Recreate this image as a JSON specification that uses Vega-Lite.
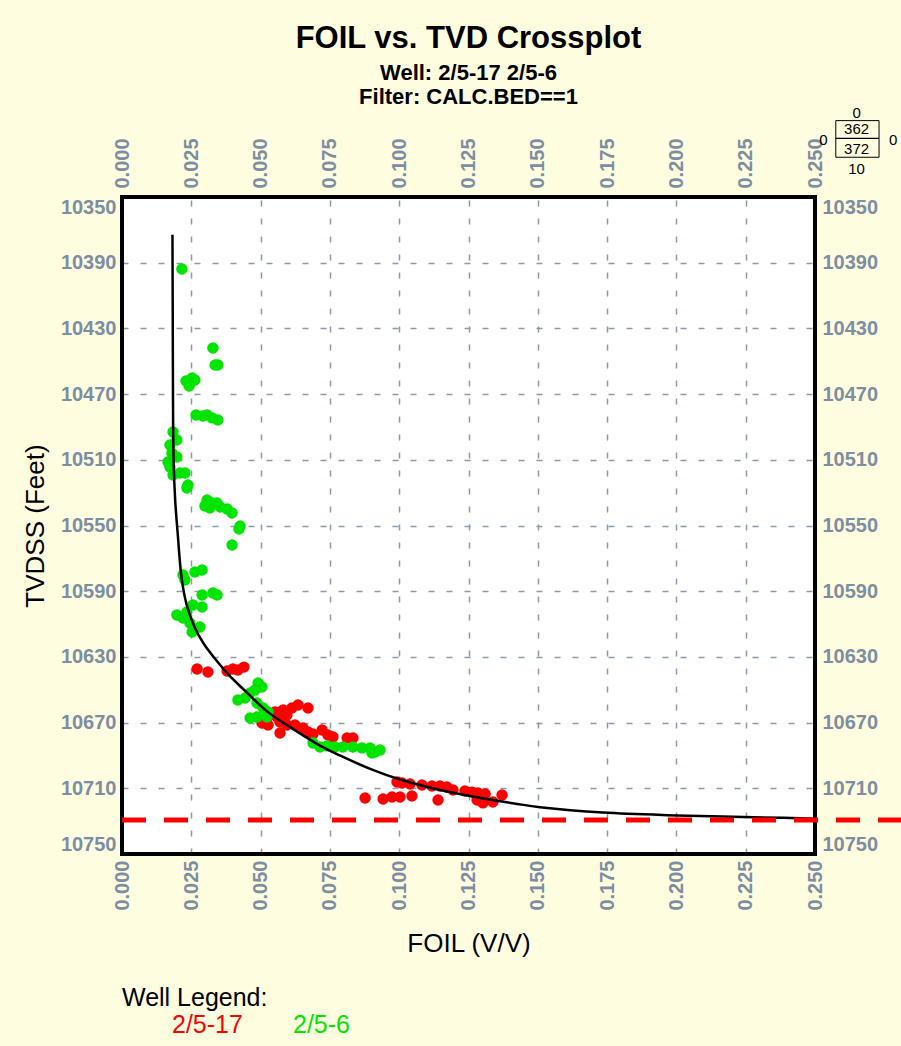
{
  "$schema": "https://vega.github.io/schema/vega-lite/v6.json",
  "autosize": {"type": "none"},
  "padding": {"left": 122, "top": 197, "right": 86, "bottom": 192},
  "width": 693,
  "height": 657,
  "title": {
    "text": "FOIL vs. TVD Crossplot",
    "subtitle": ["Well: 2/5-17 2/5-6", "Filter: CALC.BED==1"],
    "anchor": "middle",
    "frame": "group",
    "font": "Liberation Sans",
    "fontSize": 31,
    "fontWeight": "bold",
    "color": "black",
    "subtitleFont": "Liberation Sans",
    "subtitleFontSize": 22,
    "subtitleFontWeight": "bold",
    "subtitleColor": "black",
    "subtitleLineHeight": 24,
    "subtitlePadding": 8,
    "offset": -3
  },
  "datasets": {
    "pts": [
      {"well": "2/5-17", "foil": 0.0271, "tvd": 10637.4},
      {"well": "2/5-17", "foil": 0.0310, "tvd": 10639.2},
      {"well": "2/5-17", "foil": 0.0379, "tvd": 10638.6},
      {"well": "2/5-17", "foil": 0.0400, "tvd": 10637.4},
      {"well": "2/5-17", "foil": 0.0418, "tvd": 10638.0},
      {"well": "2/5-17", "foil": 0.0440, "tvd": 10636.2},
      {"well": "2/5-17", "foil": 0.0505, "tvd": 10670.2},
      {"well": "2/5-17", "foil": 0.0527, "tvd": 10671.5},
      {"well": "2/5-17", "foil": 0.0552, "tvd": 10663.5},
      {"well": "2/5-17", "foil": 0.0581, "tvd": 10662.3},
      {"well": "2/5-17", "foil": 0.0613, "tvd": 10661.1},
      {"well": "2/5-17", "foil": 0.0635, "tvd": 10659.3},
      {"well": "2/5-17", "foil": 0.0671, "tvd": 10661.1},
      {"well": "2/5-17", "foil": 0.0570, "tvd": 10669.6},
      {"well": "2/5-17", "foil": 0.0595, "tvd": 10671.5},
      {"well": "2/5-17", "foil": 0.0624, "tvd": 10671.5},
      {"well": "2/5-17", "foil": 0.0653, "tvd": 10673.3},
      {"well": "2/5-17", "foil": 0.0671, "tvd": 10675.7},
      {"well": "2/5-17", "foil": 0.0689, "tvd": 10676.9},
      {"well": "2/5-17", "foil": 0.0722, "tvd": 10674.5},
      {"well": "2/5-17", "foil": 0.0743, "tvd": 10677.5},
      {"well": "2/5-17", "foil": 0.0761, "tvd": 10678.8},
      {"well": "2/5-17", "foil": 0.0570, "tvd": 10676.3},
      {"well": "2/5-17", "foil": 0.0812, "tvd": 10679.4},
      {"well": "2/5-17", "foil": 0.0833, "tvd": 10679.4},
      {"well": "2/5-17", "foil": 0.0559, "tvd": 10666.6},
      {"well": "2/5-17", "foil": 0.0595, "tvd": 10665.4},
      {"well": "2/5-17", "foil": 0.0523, "tvd": 10667.2},
      {"well": "2/5-17", "foil": 0.0877, "tvd": 10715.9},
      {"well": "2/5-17", "foil": 0.0942, "tvd": 10716.5},
      {"well": "2/5-17", "foil": 0.0974, "tvd": 10715.3},
      {"well": "2/5-17", "foil": 0.1003, "tvd": 10715.3},
      {"well": "2/5-17", "foil": 0.1046, "tvd": 10714.7},
      {"well": "2/5-17", "foil": 0.1140, "tvd": 10717.1},
      {"well": "2/5-17", "foil": 0.0992, "tvd": 10706.2},
      {"well": "2/5-17", "foil": 0.1010, "tvd": 10706.8},
      {"well": "2/5-17", "foil": 0.1039, "tvd": 10707.4},
      {"well": "2/5-17", "foil": 0.1082, "tvd": 10708.0},
      {"well": "2/5-17", "foil": 0.1118, "tvd": 10708.6},
      {"well": "2/5-17", "foil": 0.1147, "tvd": 10708.6},
      {"well": "2/5-17", "foil": 0.1172, "tvd": 10709.2},
      {"well": "2/5-17", "foil": 0.1194, "tvd": 10711.0},
      {"well": "2/5-17", "foil": 0.1237, "tvd": 10711.6},
      {"well": "2/5-17", "foil": 0.1263, "tvd": 10712.3},
      {"well": "2/5-17", "foil": 0.1284, "tvd": 10712.9},
      {"well": "2/5-17", "foil": 0.1310, "tvd": 10713.5},
      {"well": "2/5-17", "foil": 0.1281, "tvd": 10717.1},
      {"well": "2/5-17", "foil": 0.1302, "tvd": 10718.9},
      {"well": "2/5-17", "foil": 0.1338, "tvd": 10718.3},
      {"well": "2/5-17", "foil": 0.1371, "tvd": 10714.1},
      {"well": "2/5-6", "foil": 0.0216, "tvd": 10393.8},
      {"well": "2/5-6", "foil": 0.0328, "tvd": 10441.9},
      {"well": "2/5-6", "foil": 0.0336, "tvd": 10452.3},
      {"well": "2/5-6", "foil": 0.0346, "tvd": 10452.3},
      {"well": "2/5-6", "foil": 0.0231, "tvd": 10462.0},
      {"well": "2/5-6", "foil": 0.0245, "tvd": 10463.2},
      {"well": "2/5-6", "foil": 0.0263, "tvd": 10461.4},
      {"well": "2/5-6", "foil": 0.0242, "tvd": 10465.1},
      {"well": "2/5-6", "foil": 0.0253, "tvd": 10460.2},
      {"well": "2/5-6", "foil": 0.0267, "tvd": 10482.7},
      {"well": "2/5-6", "foil": 0.0292, "tvd": 10483.3},
      {"well": "2/5-6", "foil": 0.0307, "tvd": 10482.7},
      {"well": "2/5-6", "foil": 0.0325, "tvd": 10484.5},
      {"well": "2/5-6", "foil": 0.0346, "tvd": 10485.8},
      {"well": "2/5-6", "foil": 0.0184, "tvd": 10493.1},
      {"well": "2/5-6", "foil": 0.0198, "tvd": 10497.9},
      {"well": "2/5-6", "foil": 0.0173, "tvd": 10501.0},
      {"well": "2/5-6", "foil": 0.0180, "tvd": 10505.9},
      {"well": "2/5-6", "foil": 0.0198, "tvd": 10508.3},
      {"well": "2/5-6", "foil": 0.0166, "tvd": 10511.3},
      {"well": "2/5-6", "foil": 0.0173, "tvd": 10514.4},
      {"well": "2/5-6", "foil": 0.0184, "tvd": 10519.3},
      {"well": "2/5-6", "foil": 0.0209, "tvd": 10518.0},
      {"well": "2/5-6", "foil": 0.0227, "tvd": 10518.0},
      {"well": "2/5-6", "foil": 0.0238, "tvd": 10525.3},
      {"well": "2/5-6", "foil": 0.0234, "tvd": 10527.2},
      {"well": "2/5-6", "foil": 0.0307, "tvd": 10534.5},
      {"well": "2/5-6", "foil": 0.0299, "tvd": 10538.1},
      {"well": "2/5-6", "foil": 0.0325, "tvd": 10536.3},
      {"well": "2/5-6", "foil": 0.0343, "tvd": 10536.3},
      {"well": "2/5-6", "foil": 0.0317, "tvd": 10539.3},
      {"well": "2/5-6", "foil": 0.0354, "tvd": 10538.7},
      {"well": "2/5-6", "foil": 0.0379, "tvd": 10540.0},
      {"well": "2/5-6", "foil": 0.0397, "tvd": 10542.4},
      {"well": "2/5-6", "foil": 0.0426, "tvd": 10550.3},
      {"well": "2/5-6", "foil": 0.0422, "tvd": 10552.1},
      {"well": "2/5-6", "foil": 0.0397, "tvd": 10561.9},
      {"well": "2/5-6", "foil": 0.0220, "tvd": 10580.1},
      {"well": "2/5-6", "foil": 0.0227, "tvd": 10583.2},
      {"well": "2/5-6", "foil": 0.0263, "tvd": 10578.3},
      {"well": "2/5-6", "foil": 0.0289, "tvd": 10577.1},
      {"well": "2/5-6", "foil": 0.0289, "tvd": 10592.3},
      {"well": "2/5-6", "foil": 0.0328, "tvd": 10591.1},
      {"well": "2/5-6", "foil": 0.0343, "tvd": 10592.3},
      {"well": "2/5-6", "foil": 0.0256, "tvd": 10598.4},
      {"well": "2/5-6", "foil": 0.0289, "tvd": 10599.6},
      {"well": "2/5-6", "foil": 0.0234, "tvd": 10602.7},
      {"well": "2/5-6", "foil": 0.0198, "tvd": 10604.5},
      {"well": "2/5-6", "foil": 0.0220, "tvd": 10606.3},
      {"well": "2/5-6", "foil": 0.0245, "tvd": 10609.4},
      {"well": "2/5-6", "foil": 0.0281, "tvd": 10611.8},
      {"well": "2/5-6", "foil": 0.0253, "tvd": 10614.8},
      {"well": "2/5-6", "foil": 0.0491, "tvd": 10645.9},
      {"well": "2/5-6", "foil": 0.0505, "tvd": 10648.3},
      {"well": "2/5-6", "foil": 0.0480, "tvd": 10650.2},
      {"well": "2/5-6", "foil": 0.0418, "tvd": 10656.2},
      {"well": "2/5-6", "foil": 0.0444, "tvd": 10655.0},
      {"well": "2/5-6", "foil": 0.0462, "tvd": 10652.0},
      {"well": "2/5-6", "foil": 0.0487, "tvd": 10658.1},
      {"well": "2/5-6", "foil": 0.0509, "tvd": 10661.1},
      {"well": "2/5-6", "foil": 0.0527, "tvd": 10663.5},
      {"well": "2/5-6", "foil": 0.0462, "tvd": 10667.2},
      {"well": "2/5-6", "foil": 0.0487, "tvd": 10666.6},
      {"well": "2/5-6", "foil": 0.0523, "tvd": 10666.6},
      {"well": "2/5-6", "foil": 0.0689, "tvd": 10682.4},
      {"well": "2/5-6", "foil": 0.0714, "tvd": 10684.9},
      {"well": "2/5-6", "foil": 0.0740, "tvd": 10684.2},
      {"well": "2/5-6", "foil": 0.0768, "tvd": 10684.9},
      {"well": "2/5-6", "foil": 0.0797, "tvd": 10684.9},
      {"well": "2/5-6", "foil": 0.0833, "tvd": 10684.9},
      {"well": "2/5-6", "foil": 0.0866, "tvd": 10685.5},
      {"well": "2/5-6", "foil": 0.0895, "tvd": 10685.5},
      {"well": "2/5-6", "foil": 0.0913, "tvd": 10687.9},
      {"well": "2/5-6", "foil": 0.0931, "tvd": 10686.7},
      {"well": "2/5-6", "foil": 0.0902, "tvd": 10688.5}
    ],
    "curve": [
      {"foil": 0.0182, "tvd": 10373},
      {"foil": 0.0183, "tvd": 10420},
      {"foil": 0.0184, "tvd": 10474},
      {"foil": 0.0186, "tvd": 10510},
      {"foil": 0.0192, "tvd": 10535},
      {"foil": 0.0201, "tvd": 10555},
      {"foil": 0.0215, "tvd": 10582},
      {"foil": 0.0233, "tvd": 10598},
      {"foil": 0.0262, "tvd": 10612},
      {"foil": 0.0295, "tvd": 10622},
      {"foil": 0.0335, "tvd": 10631},
      {"foil": 0.0385, "tvd": 10641},
      {"foil": 0.0440, "tvd": 10650},
      {"foil": 0.0522, "tvd": 10663},
      {"foil": 0.0618, "tvd": 10674},
      {"foil": 0.0714, "tvd": 10684},
      {"foil": 0.0786, "tvd": 10690},
      {"foil": 0.0900, "tvd": 10698.5},
      {"foil": 0.1000, "tvd": 10704.5},
      {"foil": 0.1147, "tvd": 10711},
      {"foil": 0.1300, "tvd": 10716},
      {"foil": 0.1425, "tvd": 10719.5},
      {"foil": 0.1508, "tvd": 10721.5},
      {"foil": 0.1735, "tvd": 10724.8},
      {"foil": 0.2002, "tvd": 10726.5},
      {"foil": 0.2385, "tvd": 10728},
      {"foil": 0.2500, "tvd": 10728.6}
    ],
    "boxes": [
      {"foil": 0.2575, "foil2": 0.2731, "tvd": 10303.5, "tvd2": 10314.3},
      {"foil": 0.2575, "foil2": 0.2731, "tvd": 10314.3, "tvd2": 10325.8}
    ],
    "counts": [
      {"foil": 0.2650, "tvd": 10299.0, "label": "0"},
      {"foil": 0.2650, "tvd": 10308.8, "label": "362"},
      {"foil": 0.2650, "tvd": 10320.8, "label": "372"},
      {"foil": 0.2650, "tvd": 10333.1, "label": "10"},
      {"foil": 0.2530, "tvd": 10315.3, "label": "0"},
      {"foil": 0.2782, "tvd": 10315.3, "label": "0"}
    ]
  },
  "layer": [
    {
      "data": {"name": "pts"},
      "mark": {"type": "point", "filled": true, "opacity": 1, "size": 130, "shape": "circle", "strokeWidth": 0},
      "encoding": {
        "x": {
          "field": "foil", "type": "quantitative",
          "scale": {"domain": [0, 0.25], "nice": false, "zero": false},
          "axis": {
            "orient": "bottom", "title": "FOIL (V/V)", "format": ".3f",
            "values": [0, 0.025, 0.05, 0.075, 0.1, 0.125, 0.15, 0.175, 0.2, 0.225, 0.25],
            "labelAngle": 270, "labelAlign": "right", "labelBaseline": "middle",
            "labelFlush": true, "labelPadding": 6, "grid": true, "titlePadding": 20
          }
        },
        "y": {
          "field": "tvd", "type": "quantitative",
          "scale": {"domain": [10350, 10750], "reverse": true, "nice": false, "zero": false},
          "axis": {
            "orient": "left", "title": "TVDSS (Feet)", "format": "d",
            "values": [10350, 10390, 10430, 10470, 10510, 10550, 10590, 10630, 10670, 10710, 10750],
            "labelFlush": true, "labelPadding": 6, "grid": true, "titlePadding": 12
          }
        },
        "color": {
          "field": "well", "type": "nominal",
          "scale": {"domain": ["2/5-17", "2/5-6"], "range": ["#FF0000", "#00E400"]},
          "legend": {
            "orient": "none", "legendX": 0, "legendY": 789,
            "direction": "horizontal", "title": "Well Legend:",
            "titleFont": "Liberation Sans", "titleFontSize": 25, "titleFontWeight": "normal",
            "titleColor": "black", "titleAnchor": "start", "titlePadding": 1,
            "labelFont": "Liberation Sans", "labelFontSize": 25,
            "symbolSize": 0, "symbolOpacity": 0, "symbolStrokeWidth": 0,
            "labelOffset": 25, "columnPadding": -6, "padding": 0,
            "encode": {"labels": {"update": {"fill": [{"test": "datum.value === '2/5-17'", "value": "#FF0000"}, {"value": "#00E400"}]}}}
          }
        }
      }
    },
    {
      "data": {"name": "curve"},
      "mark": {"type": "line", "color": "black", "strokeWidth": 2.5, "interpolate": "catmull-rom"},
      "encoding": {
        "x": {
          "field": "foil", "type": "quantitative",
          "scale": {"domain": [0, 0.25], "nice": false, "zero": false},
          "axis": {
            "orient": "top", "title": null, "format": ".3f",
            "values": [0, 0.025, 0.05, 0.075, 0.1, 0.125, 0.15, 0.175, 0.2, 0.225, 0.25],
            "labelAngle": 270, "labelAlign": "left", "labelBaseline": "middle",
            "labelFlush": true, "labelPadding": 9, "grid": false
          }
        },
        "y": {
          "field": "tvd", "type": "quantitative",
          "scale": {"domain": [10350, 10750], "reverse": true, "nice": false, "zero": false},
          "axis": {
            "orient": "right", "title": null, "format": "d",
            "values": [10350, 10390, 10430, 10470, 10510, 10550, 10590, 10630, 10670, 10710, 10750],
            "labelFlush": true, "labelPadding": 7, "grid": false
          }
        },
        "order": {"field": "tvd", "type": "quantitative"}
      }
    },
    {
      "data": {"values": [{}]},
      "mark": {"type": "rect", "fill": null, "fillOpacity": 0, "stroke": "black", "strokeWidth": 4},
      "encoding": {
        "x": {"datum": 0, "type": "quantitative", "scale": {"domain": [0, 0.25], "nice": false, "zero": false}, "axis": null},
        "x2": {"datum": 0.25},
        "y": {"datum": 10350, "type": "quantitative", "scale": {"domain": [10350, 10750], "reverse": true, "nice": false, "zero": false}, "axis": null},
        "y2": {"datum": 10750}
      }
    },
    {
      "data": {"values": [{}]},
      "mark": {"type": "rule", "color": "#FF0000", "strokeWidth": 5, "strokeDash": [24, 18]},
      "encoding": {
        "x": {"datum": 0, "type": "quantitative", "scale": {"domain": [0, 0.25], "nice": false, "zero": false}, "axis": null},
        "x2": {"datum": 0.285},
        "y": {"datum": 10729.3, "type": "quantitative", "scale": {"domain": [10350, 10750], "reverse": true, "nice": false, "zero": false}, "axis": null}
      }
    },
    {
      "data": {"name": "boxes"},
      "mark": {"type": "rect", "fill": null, "fillOpacity": 0, "stroke": "black", "strokeWidth": 1},
      "encoding": {
        "x": {"field": "foil", "type": "quantitative", "scale": {"domain": [0, 0.25], "nice": false, "zero": false}, "axis": null},
        "x2": {"field": "foil2"},
        "y": {"field": "tvd", "type": "quantitative", "scale": {"domain": [10350, 10750], "reverse": true, "nice": false, "zero": false}, "axis": null},
        "y2": {"field": "tvd2"}
      }
    },
    {
      "data": {"name": "counts"},
      "mark": {"type": "text", "font": "Liberation Sans", "fontSize": 15, "color": "black", "align": "center", "baseline": "middle"},
      "encoding": {
        "x": {"field": "foil", "type": "quantitative", "scale": {"domain": [0, 0.25], "nice": false, "zero": false}, "axis": null},
        "y": {"field": "tvd", "type": "quantitative", "scale": {"domain": [10350, 10750], "reverse": true, "nice": false, "zero": false}, "axis": null},
        "text": {"field": "label", "type": "nominal"}
      }
    }
  ],
  "resolve": {"axis": {"x": "independent", "y": "independent"}},
  "config": {
    "background": "#FFFDE0",
    "font": "Liberation Sans",
    "view": {"fill": "white", "stroke": "black", "strokeWidth": 3.5},
    "axis": {
      "labelFont": "Liberation Sans",
      "labelFontSize": 20,
      "labelFontWeight": "bold",
      "labelColor": "#7D8DA3",
      "ticks": false,
      "domain": false,
      "gridColor": "#8C9AAB",
      "gridDash": [6, 12],
      "gridWidth": 1.5,
      "gridOpacity": 1,
      "titleFont": "Liberation Sans",
      "titleFontSize": 26,
      "titleFontWeight": "normal",
      "titleColor": "black"
    }
  }
}
